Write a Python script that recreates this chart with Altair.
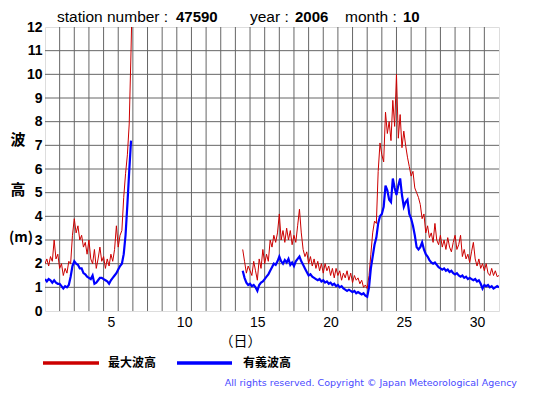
import altair as alt
import pandas as pd

# elapsed days since 1 Oct 00:00 (segment 1: 1-6 Oct, segment 2: 14-31 Oct)
t1 = [0.0, 0.125, 0.25, 0.375, 0.5, 0.625, 0.75, 0.875, 1.0, 1.125, 1.25, 1.375,
      1.5, 1.625, 1.75, 1.875, 2.0, 2.125, 2.25, 2.375, 2.5, 2.625, 2.75, 2.875,
      3.0, 3.125, 3.25, 3.375, 3.5, 3.625, 3.75, 3.875, 4.0, 4.125, 4.25, 4.375,
      4.5, 4.625, 4.75, 4.875, 5.0, 5.125, 5.25, 5.375, 5.5, 5.625, 5.75, 5.875]
sig1 = [1.35, 1.25, 1.35, 1.3, 1.2, 1.3, 1.2, 1.15, 1.15, 1.05, 0.95, 1.05,
        1.0, 1.1, 1.45, 1.9, 2.1, 2.0, 1.95, 1.8, 1.8, 1.6, 1.55, 1.45,
        1.4, 1.35, 1.5, 1.15, 1.2, 1.3, 1.4, 1.4, 1.35, 1.3, 1.25, 1.15,
        1.3, 1.4, 1.5, 1.6, 1.75, 1.9, 2.0, 2.4, 3.2, 4.5, 5.9, 7.2]
t1_max = t1 + [5.93]
max1 = [2.0, 2.2, 1.9, 2.3, 2.1, 3.0, 2.2, 2.4, 1.8, 2.0, 1.5, 1.8,
        1.6, 2.1, 2.0, 3.2, 3.9, 3.3, 3.6, 3.0, 3.2, 2.7, 2.9, 2.4,
        3.0, 2.2, 2.0, 2.6, 1.8, 2.2, 2.7, 2.1, 2.3, 1.8, 2.2, 1.9,
        2.4, 2.1, 2.6, 3.6, 2.7, 3.2, 3.4, 4.8, 5.8, 6.6, 7.9, 11.0, 12.6]

t2 = [13.5, 13.625, 13.75, 13.875, 14.0, 14.125, 14.25, 14.375, 14.5, 14.625, 14.75, 14.875,
      15.0, 15.125, 15.25, 15.375, 15.5, 15.625, 15.75, 15.875, 16.0, 16.125, 16.25, 16.375,
      16.5, 16.625, 16.75, 16.875, 17.0, 17.125, 17.25, 17.375, 17.5, 17.625, 17.75, 17.875,
      18.0, 18.125, 18.25, 18.375, 18.5, 18.625, 18.75, 18.875, 19.0, 19.125, 19.25, 19.375,
      19.5, 19.625, 19.75, 19.875, 20.0, 20.125, 20.25, 20.375, 20.5, 20.625, 20.75, 20.875,
      21.0, 21.125, 21.25, 21.375, 21.5, 21.625, 21.75, 21.875, 22.0, 22.125, 22.25, 22.375,
      22.5, 22.625, 22.75, 22.875, 23.0, 23.125, 23.25, 23.375, 23.5, 23.625, 23.75, 23.875,
      24.0, 24.125, 24.25, 24.375, 24.5, 24.625, 24.75, 24.875, 25.0, 25.125, 25.25, 25.375,
      25.5, 25.625, 25.75, 25.875, 26.0, 26.125, 26.25, 26.375, 26.5, 26.625, 26.75, 26.875,
      27.0, 27.125, 27.25, 27.375, 27.5, 27.625, 27.75, 27.875, 28.0, 28.125, 28.25, 28.375,
      28.5, 28.625, 28.75, 28.875, 29.0, 29.125, 29.25, 29.375, 29.5, 29.625, 29.75, 29.875,
      30.0, 30.125, 30.25, 30.375, 30.5, 30.625, 30.75, 30.875, 31.0]
sig2 = [1.7, 1.4, 1.2, 1.1, 1.15, 1.05, 1.1, 1.0, 0.85, 1.1, 1.2, 1.25,
        1.35, 1.45, 1.55, 1.7, 1.85, 2.0, 1.95, 2.1, 2.3, 2.1, 2.0, 2.15,
        2.05, 2.2, 1.95, 2.05, 1.9, 2.1, 2.2, 2.3, 2.1, 1.95, 1.8, 1.65,
        1.5, 1.55, 1.45, 1.4, 1.35, 1.3, 1.35, 1.25, 1.3, 1.2, 1.25, 1.15,
        1.2, 1.1, 1.15, 1.05, 1.1, 1.0, 1.05, 0.95, 0.9, 0.85, 0.9, 0.85,
        0.8, 0.85, 0.75, 0.8, 0.75, 0.7, 0.75, 0.65, 0.6, 1.0, 1.8, 2.3,
        2.8, 3.1, 3.7, 4.0, 4.1, 4.4, 5.3, 5.1, 4.7, 4.6, 5.6, 5.2,
        4.9, 5.3, 5.6, 4.9, 4.4, 4.6, 4.7, 4.1, 3.9, 3.6, 3.2, 2.7,
        2.6, 2.7, 2.9, 2.6, 2.4, 2.3, 2.15, 2.05, 2.0, 2.05, 1.95, 1.85,
        1.8, 1.75, 1.8, 1.7, 1.75, 1.65, 1.7, 1.6, 1.55, 1.6, 1.5, 1.45,
        1.5, 1.4, 1.45, 1.35, 1.4, 1.35, 1.3, 1.35, 1.25, 1.3, 1.15, 0.95,
        1.1, 1.05, 1.1, 1.0, 1.05, 0.95, 1.0, 1.05, 1.0]
max2 = [2.6, 2.1, 1.6, 1.9, 1.7, 1.5, 2.1, 1.7, 1.3, 2.2, 1.8, 2.6,
        2.0, 2.4, 2.1, 3.0, 2.7, 3.2, 2.9, 3.3, 4.1, 3.0, 3.4, 2.9,
        3.5, 3.0, 3.4, 2.8, 3.2, 2.9, 3.6, 4.3, 3.3, 2.6, 2.3, 2.5,
        2.0, 2.3, 1.9, 2.2, 1.8, 2.1, 1.7, 2.0, 1.6, 2.0, 1.7, 1.9,
        1.5, 1.8, 1.4, 1.8, 1.5, 1.7, 1.3, 1.6, 1.4, 1.7, 1.3, 1.6,
        1.2, 1.5, 1.3, 1.4, 1.15, 1.3, 1.0, 1.1, 0.95, 1.5, 2.4, 3.3,
        3.8, 3.7, 5.9, 7.1, 6.6, 6.3, 8.4, 7.5, 8.0, 7.2, 8.9, 7.8,
        10.0, 7.3, 8.3, 6.9, 7.6, 7.0, 6.5, 6.1, 5.7, 5.9, 5.2, 5.0,
        4.8, 4.5, 3.9, 4.1, 3.3, 3.6, 3.1, 3.3, 2.9, 3.7, 3.0, 2.8,
        3.2, 2.7, 3.0, 2.6, 3.1, 2.7, 2.5, 2.9, 3.2, 2.6, 2.8, 3.2,
        2.3, 2.6, 2.2, 2.4, 2.05, 2.5, 2.9, 2.2, 1.9, 2.2, 1.8, 2.0,
        1.7, 2.0, 1.6, 1.5, 1.8, 1.5, 1.7, 1.45, 1.5]

series_names = ["最大波高", "有義波高"]
series_colors = ["#cc0000", "#0000ff"]
series_widths = [1.0, 2.2]

x_label_pos = [4.5, 9.5, 14.5, 19.5, 24.5, 29.5]
y_ticks = [0, 1, 2, 3, 4, 5, 6, 7, 8, 9, 10, 11, 12]
grid_days = [1, 2, 3, 4, 5, 6, 7, 8, 9, 10, 11, 12, 13, 14, 15, 16, 17, 18, 19, 20,
             21, 22, 23, 24, 25, 26, 27, 28, 29, 30]
grid_vals = [1, 2, 3, 4, 5, 6, 7, 8, 9, 10, 11]

rows = []
for t, v in zip(t1_max, max1):
    rows.append({"t": t, "h": v, "s": series_names[0], "seg": "a_max"})
for t, v in zip(t2, max2):
    rows.append({"t": t, "h": v, "s": series_names[0], "seg": "b_max"})
for t, v in zip(t1, sig1):
    rows.append({"t": t, "h": v, "s": series_names[1], "seg": "a_sig"})
for t, v in zip(t2, sig2):
    rows.append({"t": t, "h": v, "s": series_names[1], "seg": "b_sig"})
df = pd.DataFrame(rows)
df["order"] = df["s"].map({series_names[0]: 0, series_names[1]: 1})

xscale = alt.Scale(domain=[0, 31], nice=False, zero=False)
yscale = alt.Scale(domain=[0, 12], nice=False)

xaxis = alt.Axis(values=x_label_pos, labelExpr="toString(datum.value + 0.5)",
                 grid=False, ticks=False, domain=False,
                 labelFont="Liberation Sans", labelFontSize=14,
                 labelColor="black", labelPadding=4,
                 title="（日）", titleFont="Noto Sans CJK JP",
                 titleFontSize=14, titleFontWeight="normal",
                 titleColor="black", titleX=195, titleY=23)
yaxis = alt.Axis(values=y_ticks, grid=False, ticks=False, domain=False,
                 labelFont="Liberation Sans", labelFontSize=14,
                 labelFontWeight="bold", labelColor="black",
                 labelPadding=3, title=None)

grid_x = alt.Chart(pd.DataFrame({"g": grid_days})).mark_rule(
    color="#666666", strokeWidth=1).encode(
    x=alt.X("g:Q", scale=xscale, axis=xaxis))
grid_y = alt.Chart(pd.DataFrame({"g": grid_vals})).mark_rule(
    color="#666666", strokeWidth=1).encode(
    y=alt.Y("g:Q", scale=yscale, axis=yaxis))

lines = alt.Chart(df).mark_line(clip=True).encode(
    x=alt.X("t:Q", scale=xscale, axis=xaxis),
    y=alt.Y("h:Q", scale=yscale, axis=yaxis),
    color=alt.Color("s:N", scale=alt.Scale(domain=series_names, range=series_colors),
                    legend=None),
    strokeWidth=alt.StrokeWidth("s:N", scale=alt.Scale(domain=series_names, range=series_widths),
                                legend=None),
    detail="seg:N",
    order="order:Q",
)

one = pd.DataFrame({"k": [0]})


def label(txt, x, y, size=15, weight="normal", font="Liberation Sans", color="black",
          align="left", baseline="alphabetic"):
    return alt.Chart(one).mark_text(text=txt, font=font, fontSize=size, fontWeight=weight,
                                     color=color, align=align, baseline=baseline).encode(
        x=alt.value(x), y=alt.value(y))


def key(color, x0, x1, y):
    return alt.Chart(one).mark_rule(color=color, strokeWidth=3.5).encode(
        x=alt.value(x0), x2=alt.value(x1), y=alt.value(y))


texts = [
    label("station number :", 12, -5, size=15.5),
    label("47590", 131, -5, weight="bold"),
    label("year :", 205, -5, size=15.5),
    label("2006", 250, -5, weight="bold"),
    label("month :", 300, -5, size=15.5),
    label("10", 358, -5, weight="bold"),
    label("波", -27, 113, size=15, weight="bold", font="Noto Sans CJK JP", align="center", baseline="middle"),
    label("高", -27, 163, size=15, weight="bold", font="Noto Sans CJK JP", align="center", baseline="middle"),
    label("(m)", -24, 211, size=14, weight="bold", font="Noto Sans CJK JP", align="center", baseline="middle"),
    key(series_colors[0], -2, 54, 336),
    label(series_names[0], 63, 336, size=12, weight="bold", font="Noto Sans CJK JP", baseline="middle"),
    key(series_colors[1], 132, 187, 336),
    label(series_names[1], 198, 336, size=12, weight="bold", font="Noto Sans CJK JP", baseline="middle"),
    label("All rights reserved. Copyright © Japan Meteorological Agency", 472, 356, size=9.5,
          font="DejaVu Sans", color="#4a4aff", align="right", baseline="middle"),
]

chart = alt.layer(grid_x, grid_y, lines, *texts).properties(
    width=454, height=284,
    autosize=alt.AutoSizeParams(type="none"),
    padding={"left": 37, "top": 19, "right": 48, "bottom": 84},
).configure_view(stroke="black", strokeWidth=1.5).configure(background="white")

chart.save("out.html", embed_options={"renderer": "svg", "actions": False})
